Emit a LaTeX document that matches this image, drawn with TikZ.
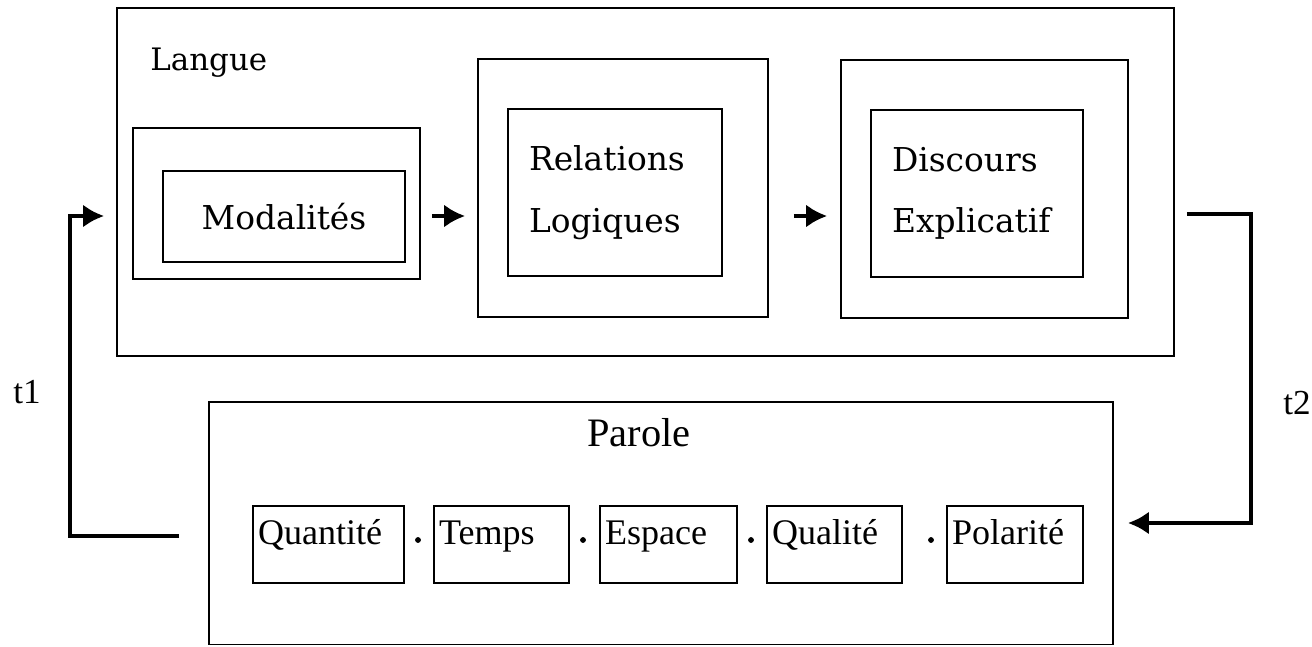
\documentclass[tikz,border=0pt]{standalone}
\usepackage{fontspec}
\setmainfont{Liberation Serif}
\newfontfamily\bookface{DejaVu Serif}
\usepackage{tikz}
\usetikzlibrary{arrows.meta}

\begin{document}
\begin{tikzpicture}
		\tikzset{> = {Latex[length = 4.2mm,width = 4.6mm]}}
		\tikzset{panel/.style = {draw,line width = 1pt,inner sep = 0pt}}
		\tikzset{bigserif/.style = {font = \bookface\fontsize{18.7}{35}\selectfont}}
		\tikzset{cell/.style = {panel,font = \fontsize{20.5}{24}\selectfont,minimum height = 1.54cm,text height = 0.5cm,text depth = 0.5cm,inner xsep = 0.1cm,align = left}}
		\tikzset{flowarrow/.style = {->,line width = 2.2pt}}
		\tikzset{feedback/.style = {->,line width = 2.6pt}}
		\useasboundingbox (0,0) rectangle (26.24,12.92);
		\node[panel,minimum width = 21.14cm,minimum height = 6.96cm] (Lg) at (12.91,9.28){};
		\node[font = \bookface\fontsize{17.6}{20}\selectfont,anchor = base west,inner sep = 0pt] (LgT) at (3.0,11.52){Langue};
		\node[panel,minimum width = 5.74cm,minimum height = 3.02cm] (Mo) at (5.53,8.85){};
		\node[panel,bigserif,minimum width = 4.84cm,minimum height = 1.82cm] (MoT) at (5.68,8.59){Modalités};
		\node[panel,minimum width = 5.80cm,minimum height = 5.16cm] (Re) at (12.46,9.16){};
		\node[panel,bigserif,text width = 3.44cm,inner xsep = 0.42cm,minimum height = 3.34cm,align = left] (ReT) at (12.30,9.07){Relations\\Logiques};
		\node[panel,minimum width = 5.74cm,minimum height = 5.16cm] (Di) at (19.69,9.14){};
		\node[panel,bigserif,text width = 3.40cm,inner xsep = 0.42cm,minimum height = 3.34cm,align = left] (DiT) at (19.54,9.05){Discours\\Explicatif};
		\draw[flowarrow,shorten <= 0.22cm,shorten >= 0.24cm] (Mo.east |- 0,8.60) -- (Re.west |- 0,8.60);
		\draw[flowarrow,shorten <= 0.50cm,shorten >= 0.26cm] (Re.east |- 0,8.60) -- (Di.west |- 0,8.60);
		\node[panel,minimum width = 18.08cm,minimum height = 4.85cm] (Pa) at (13.22,2.455){};
		\node[font = \fontsize{23}{26}\selectfont,anchor = base west,inner sep = 0pt] (PaT) at (11.74,4.0){Parole};
		\node[cell,text width = 2.82cm] (Qn) at (6.57,2.03){Quantité};
		\node[cell,text width = 2.50cm] (Te) at (10.03,2.03){Temps};
		\node[cell,text width = 2.54cm] (Es) at (13.37,2.03){Espace};
		\node[cell,text width = 2.50cm] (Ql) at (16.69,2.03){Qualité};
		\node[cell,text width = 2.52cm] (Po) at (20.30,2.03){Polarité};
		\filldraw (8.36,2.12) circle (0.05);
		\filldraw (11.66,2.12) circle (0.05);
		\filldraw (15.02,2.12) circle (0.05);
		\filldraw (18.62,2.12) circle (0.05);
		\draw[feedback,shorten <= 0.58cm,shorten >= 0.24cm] (Pa.west |- 0,2.20) -| (1.40,8.60) -- (Lg.west |- 0,8.60);
		\draw[feedback,shorten <= 0.24cm,shorten >= 0.28cm] (Lg.east |- 0,8.64) -| (25.02,2.46) -- (Pa.east |- 0,2.46);
		\node[font = \fontsize{20}{24}\selectfont] (T1) at (0.54,5.08){t1};
		\node[font = \fontsize{20}{24}\selectfont] (T2) at (25.94,4.86){t2};
	\end{tikzpicture}
\end{document}
